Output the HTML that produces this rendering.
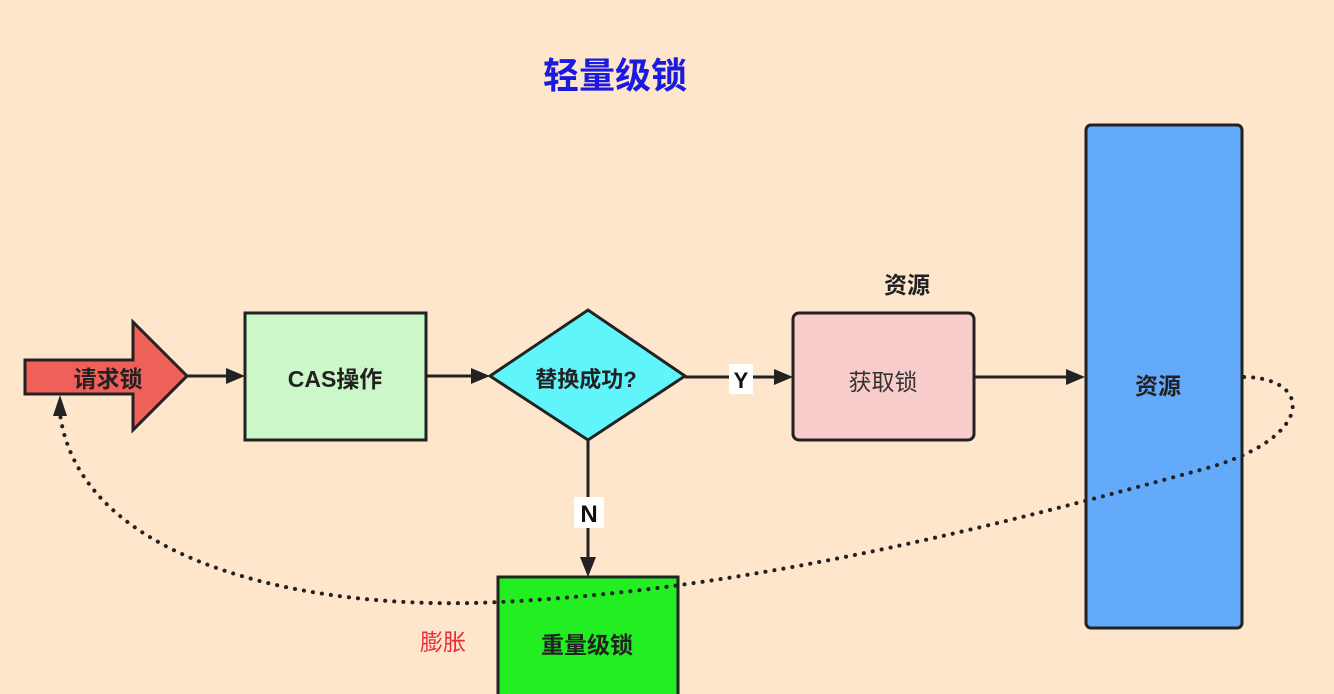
<!DOCTYPE html>
<html><head><meta charset="utf-8"><style>
html,body{margin:0;padding:0;background:#fde6cc;}
svg{display:block}
text{font-family:"Liberation Sans","Noto Sans CJK SC",sans-serif;}
</style></head><body>
<svg width="1334" height="694" viewBox="0 0 1334 694" xmlns="http://www.w3.org/2000/svg">
<rect width="1334" height="694" fill="#fde6cc"/>
<text x="615" y="88" font-size="36" font-weight="bold" fill="#1a1ae0" text-anchor="middle">轻量级锁</text>
<polygon points="25,360 133,360 133,322 187,376 133,430 133,394 25,394" fill="#f0605a" stroke="#222" stroke-width="3" stroke-linejoin="miter"/>
<text x="108" y="387" font-size="23" font-weight="bold" fill="#222" text-anchor="middle">请求锁</text>
<g stroke="#222" stroke-width="3" fill="none">
<line x1="188" y1="376" x2="228" y2="376"/>
<line x1="427" y1="376" x2="473" y2="376"/>
<line x1="685" y1="377" x2="776" y2="377"/>
<line x1="974" y1="377" x2="1068" y2="377"/>
<line x1="588" y1="440" x2="588" y2="560"/>
</g>
<g fill="#222">
<polygon points="245,376 226,368 226,384"/>
<polygon points="490,376 471,368 471,384"/>
<polygon points="793,377 774,369 774,385"/>
<polygon points="1085,377 1066,369 1066,385"/>
<polygon points="588,577 580,557 596,557"/>
</g>
<rect x="245" y="313" width="181" height="127" fill="#ccf7c8" stroke="#222" stroke-width="3"/>
<text x="335" y="387" font-size="23" font-weight="bold" fill="#222" text-anchor="middle">CAS操作</text>
<polygon points="490,376 588,310 685,376 588,440" fill="#5ff5fb" stroke="#222" stroke-width="3"/>
<text x="586" y="387" font-size="22" font-weight="bold" fill="#222" text-anchor="middle">替换成功?</text>
<rect x="729" y="364" width="24" height="30" fill="#fff"/>
<text x="741" y="388" font-size="22" font-weight="bold" fill="#111" text-anchor="middle">Y</text>
<rect x="574" y="497" width="30" height="31" fill="#fff"/>
<text x="589" y="522" font-size="24" font-weight="bold" fill="#111" text-anchor="middle">N</text>
<rect x="793" y="313" width="181" height="127" rx="6" fill="#f9cccc" stroke="#222" stroke-width="3"/>
<text x="883" y="390" font-size="23" fill="#333" text-anchor="middle">获取锁</text>
<text x="907" y="293" font-size="23" font-weight="bold" fill="#222" text-anchor="middle">资源</text>
<rect x="1086" y="125" width="156" height="503" rx="5" fill="#64aafa" stroke="#222" stroke-width="3"/>
<text x="1158" y="394" font-size="23" font-weight="bold" fill="#222" text-anchor="middle">资源</text>
<rect x="498" y="577" width="180" height="130" fill="#22ee22" stroke="#222" stroke-width="3"/>
<text x="587" y="653" font-size="23" font-weight="bold" fill="#222" text-anchor="middle">重量级锁</text>
<text x="443" y="650" font-size="23" fill="#e8303a" text-anchor="middle">膨胀</text>
<path d="M1244,377 C1315,378 1315,440 1200,470 C1000,525 750,590 500,602 C300,612 80,560 60,414" fill="none" stroke="#222" stroke-width="4" stroke-dasharray="0.1 9" stroke-linecap="round"/>
<polygon points="60,395 53,416 67,416" fill="#222"/>
</svg>
</body></html>
